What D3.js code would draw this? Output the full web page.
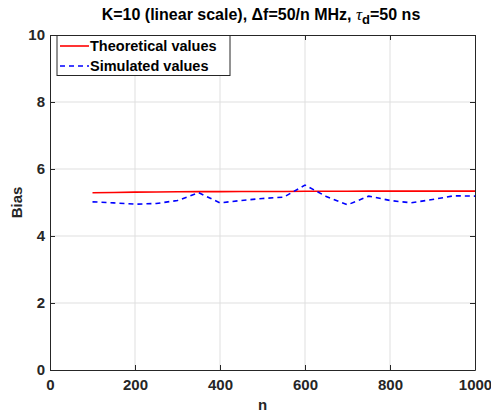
<!DOCTYPE html>
<html><head><meta charset="utf-8">
<script src="https://cdn.jsdelivr.net/npm/d3@7"></script>
<style>body{margin:0;background:#fff;} text{font-family:"Liberation Sans",Arial,sans-serif;font-weight:bold;}</style>
</head><body>
<svg id="c" width="491" height="412"></svg>
<script>
const nValues = [100,150,200,250,300,350,400,450,500,550,600,650,700,750,800,850,900,950,1000];
const theoretical = [5.29,5.30,5.31,5.315,5.32,5.325,5.325,5.33,5.33,5.33,5.335,5.335,5.335,5.34,5.34,5.34,5.34,5.34,5.34];
const simulated = [5.02,4.99,4.95,4.97,5.06,5.29,4.99,5.06,5.12,5.16,5.52,5.18,4.93,5.19,5.06,4.99,5.09,5.20,5.19];
const xTicks = [0,200,400,600,800,1000];
const yTicks = [0,2,4,6,8,10];
const seriesNames = ["Theoretical values","Simulated values"];

const svg = d3.select("#c");
const L=50,R=475,T=35,B=370;
const x = d3.scaleLinear().domain([0,1000]).range([L,R]);
const y = d3.scaleLinear().domain([0,10]).range([B,T]);
const axisCol="#262626";

// grid
svg.append("g").selectAll("line").data(xTicks.slice(1,-1)).join("line")
  .attr("x1",d=>x(d)).attr("x2",d=>x(d)).attr("y1",T).attr("y2",B)
  .attr("stroke","#dfdfdf").attr("stroke-width",1);
svg.append("g").selectAll("line").data(yTicks.slice(1,-1)).join("line")
  .attr("y1",d=>y(d)).attr("y2",d=>y(d)).attr("x1",L).attr("x2",R)
  .attr("stroke","#dfdfdf").attr("stroke-width",1);

// axes
const fs = "15px";
const xb = svg.append("g").attr("transform",`translate(0,${B})`)
  .call(d3.axisBottom(x).tickValues(xTicks).tickFormat(d3.format("d")).tickSize(-5).tickPadding(9).tickSizeOuter(0));
const yl = svg.append("g").attr("transform",`translate(${L},0)`)
  .call(d3.axisLeft(y).tickValues(yTicks).tickFormat(d3.format("d")).tickSize(-5).tickPadding(5).tickSizeOuter(0));
const xt = svg.append("g").attr("transform",`translate(0,${T})`)
  .call(d3.axisTop(x).tickValues(xTicks).tickSize(-5).tickFormat("").tickSizeOuter(0));
const yr = svg.append("g").attr("transform",`translate(${R},0)`)
  .call(d3.axisRight(y).tickValues(yTicks).tickSize(-5).tickFormat("").tickSizeOuter(0));
[xb,yl,xt,yr].forEach(g=>{
  g.attr("font-family",null).attr("font-size",null);
  g.selectAll("path").attr("stroke",axisCol).attr("stroke-width",1);
  g.selectAll("line").attr("stroke",axisCol);
  g.selectAll("text").attr("fill",axisCol).attr("font-size",fs).attr("font-weight","bold").attr("font-family","Liberation Sans, Arial, sans-serif");
});

// lines
const line = (vals)=>d3.line().x((d,i)=>x(nValues[i])).y(d=>y(d))(vals);
svg.append("path").attr("d",line(theoretical)).attr("fill","none").attr("stroke","#ff0000").attr("stroke-width",1.6);
svg.append("path").attr("d",line(simulated)).attr("fill","none").attr("stroke","#0000ff").attr("stroke-width",1.6).attr("stroke-dasharray","5,4");

// title
const title = svg.append("text").attr("x",261).attr("y",20).attr("text-anchor","middle").attr("font-size","16px").attr("font-weight","bold").attr("fill","#000");
title.append("tspan").text("K=10 (linear scale), \u0394f=50/n MHz, ");
title.append("tspan").text("\u03c4").attr("font-style","italic").attr("font-family","Liberation Serif, serif").attr("font-weight","normal").attr("font-size","17px");
title.append("tspan").text("d").attr("dy",4).attr("font-size","13px");
title.append("tspan").text("=50 ns").attr("dy",-4);

// axis labels
svg.append("text").attr("x",(L+R)/2).attr("y",410).attr("text-anchor","middle").attr("font-size","15px").attr("font-weight","bold").attr("fill",axisCol).text("n");
svg.append("text").attr("transform",`translate(22,${(T+B)/2}) rotate(-90)`).attr("text-anchor","middle").attr("font-size","15px").attr("font-weight","bold").attr("fill",axisCol).text("Bias");

// legend
const lg = svg.append("g");
lg.append("rect").attr("x",57).attr("y",35.5).attr("width",173).attr("height",40).attr("fill","#fff").attr("stroke",axisCol).attr("stroke-width",1);
const cols = ["#ff0000","#0000ff"], dashes=[null,"5,4"];
seriesNames.forEach((s,i)=>{
  const yy = 46 + i*20;
  lg.append("line").attr("x1",60).attr("x2",89).attr("y1",yy).attr("y2",yy).attr("stroke",cols[i]).attr("stroke-width",1.6).attr("stroke-dasharray",dashes[i]);
  lg.append("text").attr("x",90).attr("y",yy+5).attr("font-size","14.5px").attr("font-weight","bold").attr("fill","#000").text(s);
});
</script>
</body></html>
